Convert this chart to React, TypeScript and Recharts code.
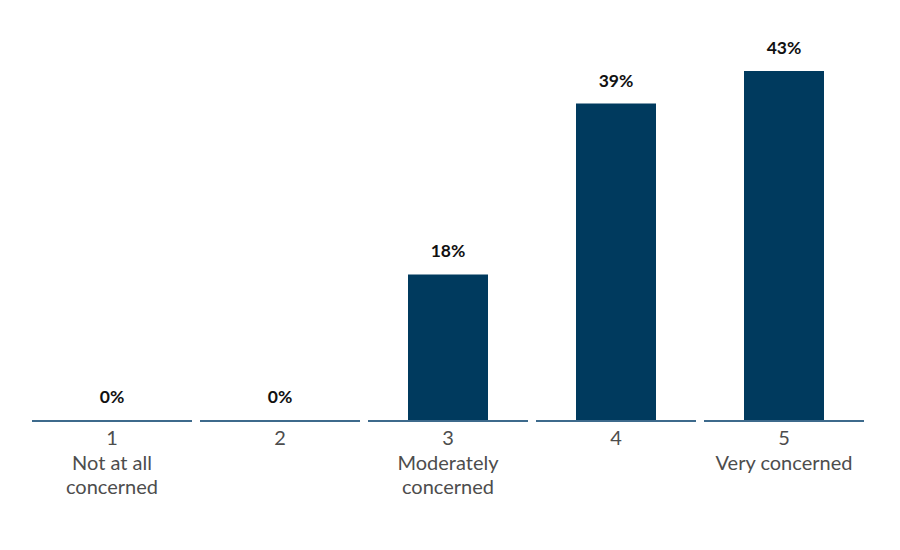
import React from 'react';
import { BarChart, Bar, XAxis, YAxis, LabelList } from 'recharts';

const categories = ['1', '2', '3', '4', '5'];
const descriptions = [['Not at all', 'concerned'], [], ['Moderately', 'concerned'], [], ['Very concerned']];
const shares = [0, 0, 18, 39, 43];

const data = categories.map((c, i) => ({ name: c, value: shares[i] }));

const FONT = 'Lato, "Open Sans", sans-serif';

const CategoryTick = (props: any) => {
    const { x, y, payload, index } = props;
    const lines = [payload.value, ...(descriptions[index] || [])];
    return (
        <g>
            <line x1={x - 80} x2={x + 80} y1={y} y2={y} stroke="#3d6a8c" strokeWidth={2} />
            {lines.map((t: string, i: number) => (
                <text
                    key={i}
                    x={x}
                    y={y + 24 + i * 24.5}
                    textAnchor="middle"
                    fontFamily={FONT}
                    fontSize={20}
                    fill="#4d4d4d"
                >
                    {t}
                </text>
            ))}
        </g>
    );
};

export default function App() {
    return (
        <div style={{ position: 'absolute', left: 0, top: 0, width: 900, height: 550, background: '#fff' }}>
            <BarChart width={900} height={550} data={data} margin={{ top: 14, right: 32, bottom: 29, left: 28 }}>
                <YAxis hide domain={[0, 50]} />
                <XAxis
                    dataKey="name"
                    axisLine={false}
                    tickLine={false}
                    tickSize={0}
                    tickMargin={0}
                    height={100}
                    interval={0}
                    tick={<CategoryTick />}
                />
                <Bar dataKey="value" fill="#003a5e" barSize={80} minPointSize={1} isAnimationActive={false}>
                    <LabelList
                        dataKey="value"
                        position="top"
                        offset={17}
                        formatter={(v: any) => `${v}%`}
                        style={{ fontFamily: FONT, fontSize: 17.5, fontWeight: 700, fill: '#111' }}
                    />
                </Bar>
            </BarChart>
        </div>
    );
}
